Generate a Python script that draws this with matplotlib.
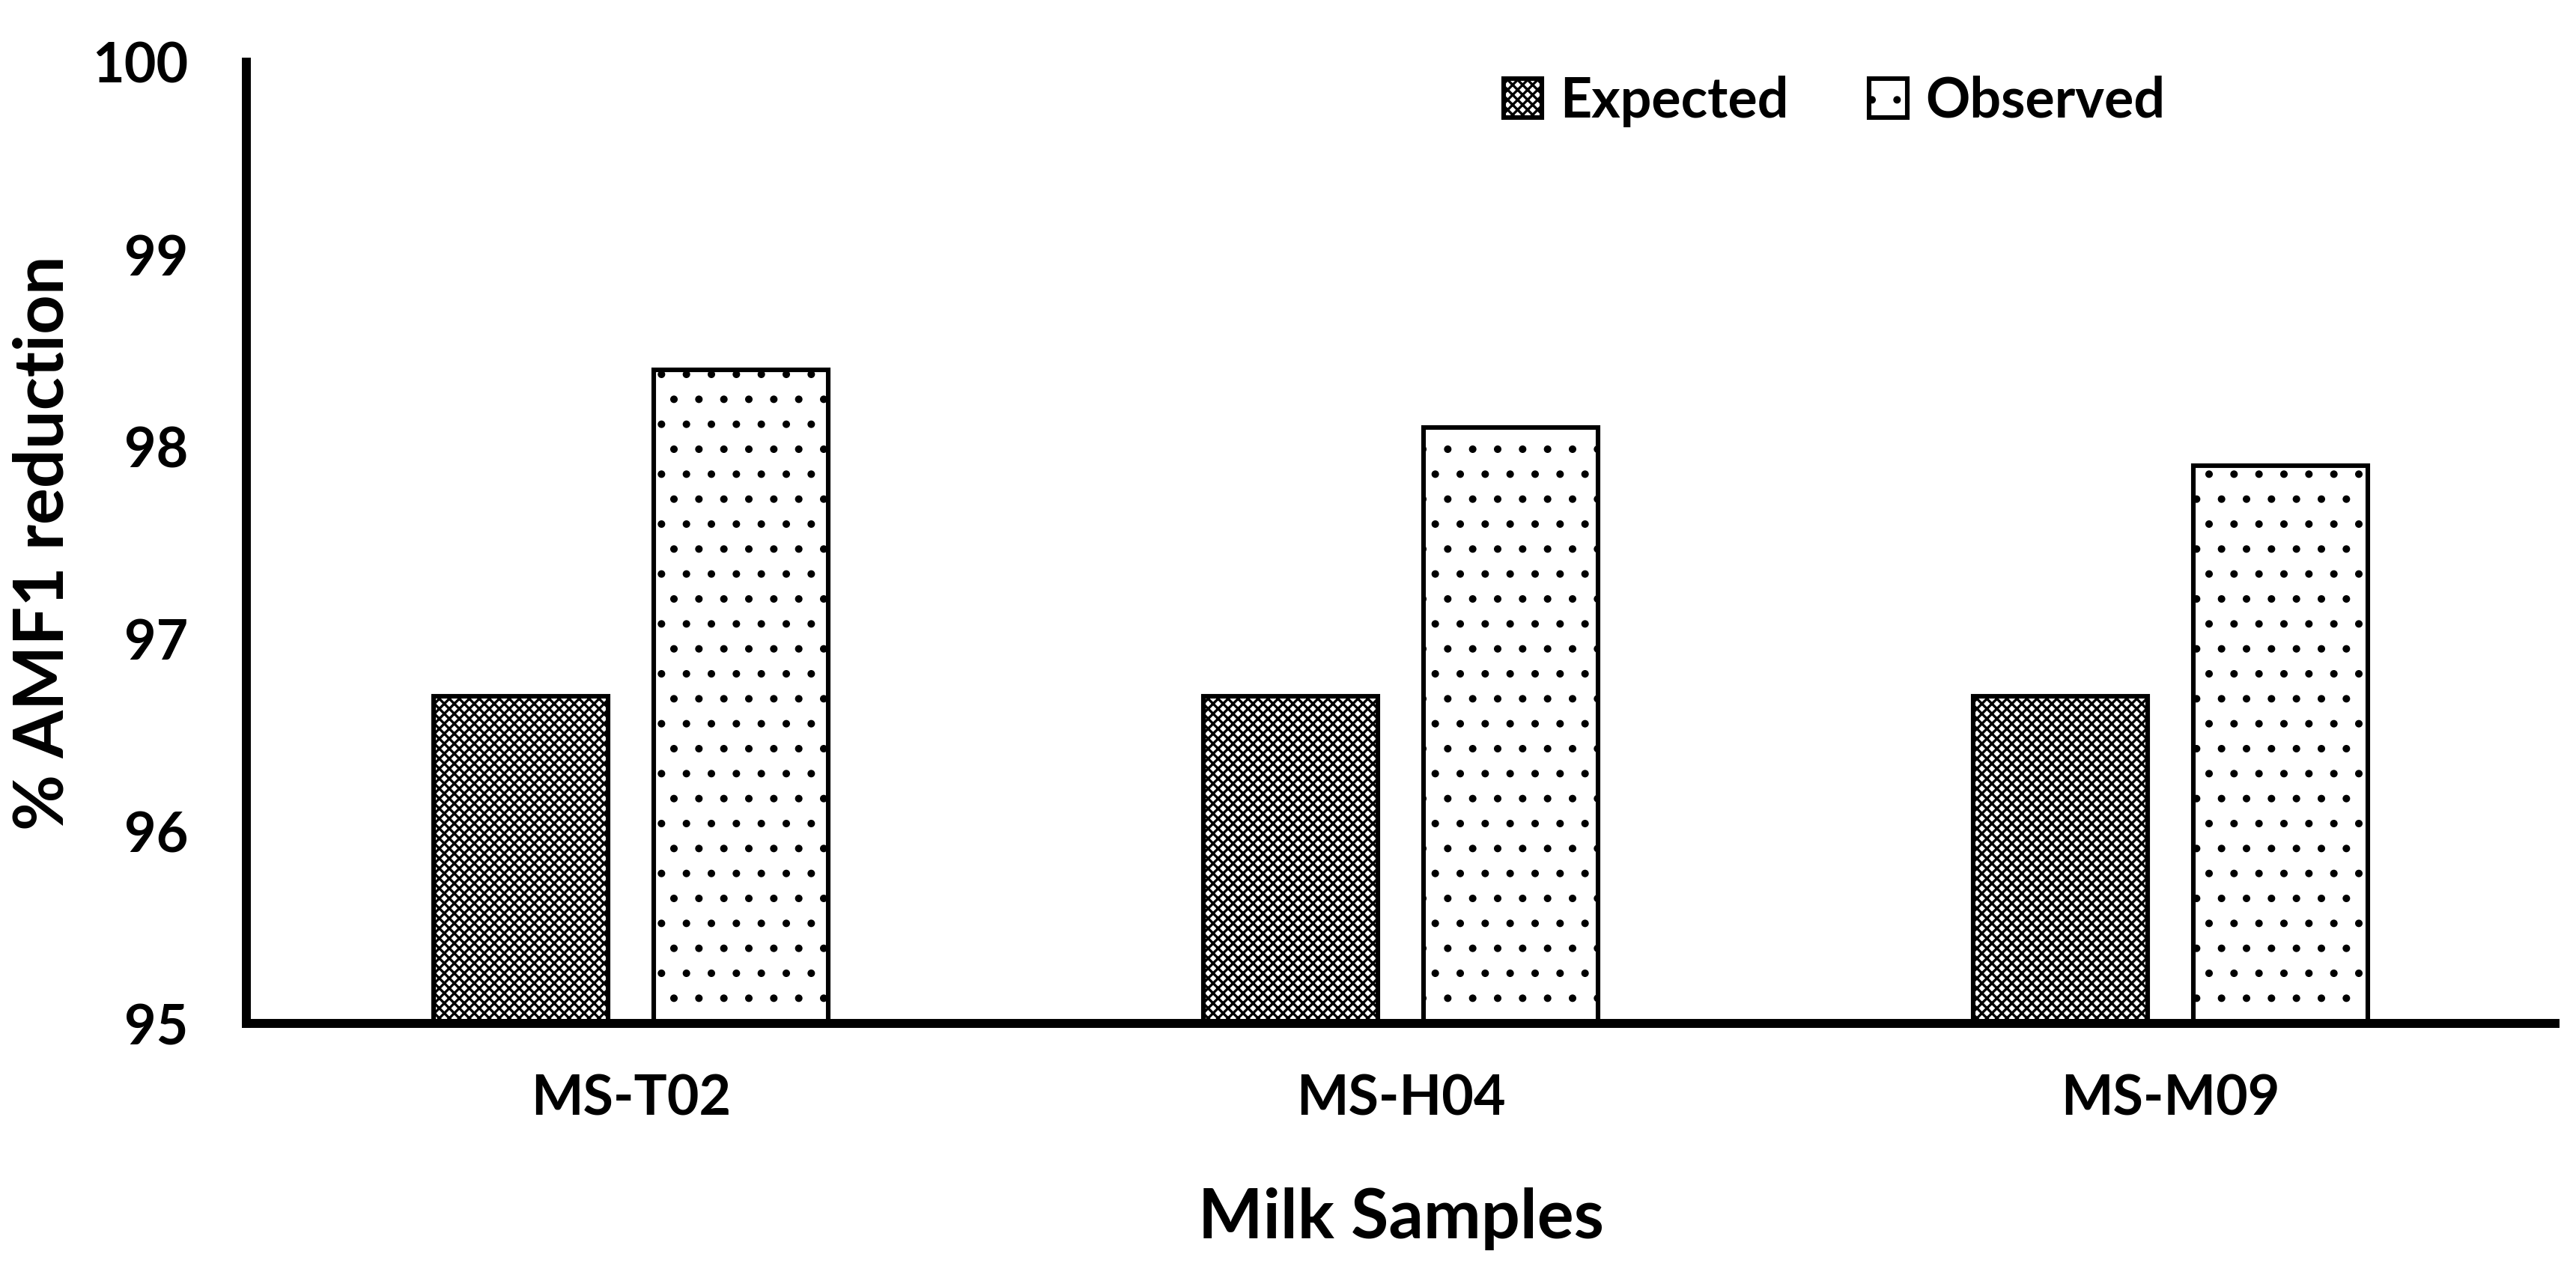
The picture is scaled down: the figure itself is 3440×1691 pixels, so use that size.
import matplotlib
matplotlib.use('Agg')
import matplotlib.pyplot as plt
import numpy as np

samples = ['MS-T02', 'MS-H04', 'MS-M09']
expected = [96.7, 96.7, 96.7]
observed = [98.4, 98.1, 97.9]
yticks = [95, 96, 97, 98, 99, 100]

plt.rcParams['font.family'] = ['Lato', 'DejaVu Sans']
plt.rcParams['font.weight'] = 'bold'
plt.rcParams['hatch.linewidth'] = 1.2

fig = plt.figure(figsize=(17.205, 8.455), dpi=200)
ax = fig.add_axes([0.0956, 0.1916, 0.8960, 0.7594])

x = np.arange(len(samples))
w = 0.227
off = 0.143
b1 = ax.bar(x - off, [e - 95 for e in expected], w, bottom=95, color='white',
            edgecolor='black', linewidth=2.2, hatch='xxxxx', label='Expected')
b2 = ax.bar(x + off, [o - 95 for o in observed], w, bottom=95, color='white',
            edgecolor='black', linewidth=2.2, hatch='.', label='Observed')

ax.set_xlim(-0.5, 2.5)
ax.set_ylim(95, 100)
ax.set_yticks(yticks)
ax.set_xticks(x)
ax.set_xticklabels(samples)
ax.tick_params(length=0, labelsize=26.5)
ax.tick_params(axis='y', pad=28)
ax.tick_params(axis='x', pad=24)
for s in ['top', 'right']:
    ax.spines[s].set_visible(False)
for s in ['left', 'bottom']:
    ax.spines[s].set_linewidth(4.3)

ax.set_xlabel('Milk Samples', fontsize=33, fontweight='bold', labelpad=30)
ax.set_ylabel('% AMF1 reduction', fontsize=33, fontweight='bold', labelpad=8)

ax.legend(loc='center', bbox_to_anchor=(0.712, 0.920), bbox_transform=fig.transFigure,
          ncol=2, frameon=False, fontsize=26.5, handlelength=0.69, handleheight=0.72,
          handletextpad=0.33, columnspacing=1.46)

fig.savefig('out.png', dpi=200)
